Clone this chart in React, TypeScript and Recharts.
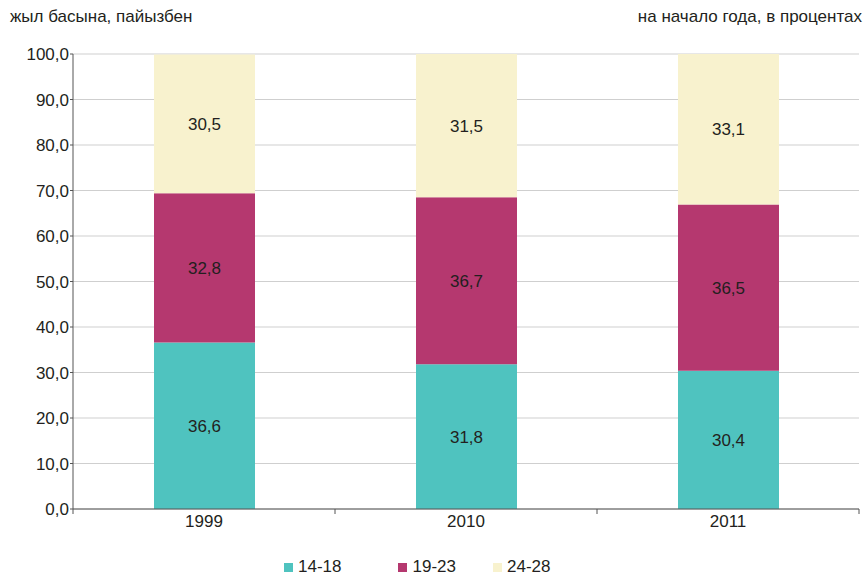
import React from "react";
import { BarChart, Bar, XAxis, YAxis, CartesianGrid, LabelList } from "recharts";

const years = ["1999", "2010", "2011"];
const age14to18 = [36.6, 31.8, 30.4];
const age19to23 = [32.8, 36.7, 36.5];
const age24to28 = [30.5, 31.5, 33.1];
const yTicks = [0, 10, 20, 30, 40, 50, 60, 70, 80, 90, 100];

const series = [
  { key: "a", name: "14-18", color: "#4FC3BF" },
  { key: "b", name: "19-23", color: "#B5386F" },
  { key: "c", name: "24-28", color: "#F8F2CE" },
];

const data = years.map((year, i) => ({
  year,
  a: age14to18[i],
  b: age19to23[i],
  c: age24to28[i],
}));

const W = 868;
const H = 575;
const LEFT = 73;
const RIGHT = 9;
const TOP = 54;
const XH = 66;
const bandW = (W - LEFT - RIGHT) / years.length;
const INK = "#231F20";
const FONT = "'Liberation Sans', Arial, sans-serif";

const comma = (v: number | string) => Number(v).toFixed(1).replace(".", ",");

// category tick: label at band centre, tick marks on band boundaries
function YearTick(props: any) {
  const { x, payload, index } = props;
  const axisY = H - XH;
  return (
    <g>
      <line x1={x - bandW / 2} x2={x - bandW / 2} y1={axisY} y2={axisY + 5} stroke="#555" />
      {index === years.length - 1 && (
        <line x1={x + bandW / 2} x2={x + bandW / 2} y1={axisY} y2={axisY + 5} stroke="#555" />
      )}
      <text x={x} y={axisY + 18} textAnchor="middle" fill={INK} fontSize={17} fontFamily={FONT}>
        {payload.value}
      </text>
    </g>
  );
}

export default function App() {
  return (
    <div style={{ position: "absolute", left: 0, top: 0, width: W, height: H, background: "#fff", fontFamily: FONT }}>
      <div style={{ position: "absolute", left: 10, top: 7, fontSize: 17, color: INK }}>жыл басына, пайызбен</div>
      <div style={{ position: "absolute", right: 6, top: 7, fontSize: 17, color: INK }}>на начало года, в процентах</div>
      <BarChart width={W} height={H} data={data} margin={{ top: TOP, right: RIGHT, left: 0, bottom: 0 }} barSize={101}>
        <CartesianGrid vertical={false} stroke="#CFCFCF" />
        <XAxis
          dataKey="year"
          height={XH}
          tickLine={false}
          axisLine={{ stroke: "#555" }}
          tick={<YearTick />}
          interval={0}
        />
        <YAxis
          width={LEFT}
          domain={[0, 100]}
          ticks={yTicks}
          tickFormatter={comma}
          tickSize={3}
          tickMargin={1}
          axisLine={{ stroke: "#555" }}
          tickLine={{ stroke: "#555" }}
          tick={{ fill: INK, fontSize: 17, fontFamily: FONT }}
        />
        {series.map((s) => (
          <Bar key={s.key} dataKey={s.key} name={s.name} stackId="s" fill={s.color} isAnimationActive={false}>
            <LabelList dataKey={s.key} position="center" formatter={comma} fill={INK} fontSize={17} fontFamily={FONT} />
          </Bar>
        ))}
      </BarChart>
      <div style={{ position: "absolute", left: 284, top: 557, display: "flex", fontSize: 17, color: INK }}>
        {series.map((s, i) => (
          <div key={s.key} style={{ display: "flex", alignItems: "center", marginRight: i === 0 ? 57 : 37 }}>
            <span style={{ width: 9, height: 9, background: s.color, marginRight: 5, display: "inline-block" }} />
            <span>{s.name}</span>
          </div>
        ))}
      </div>
    </div>
  );
}
